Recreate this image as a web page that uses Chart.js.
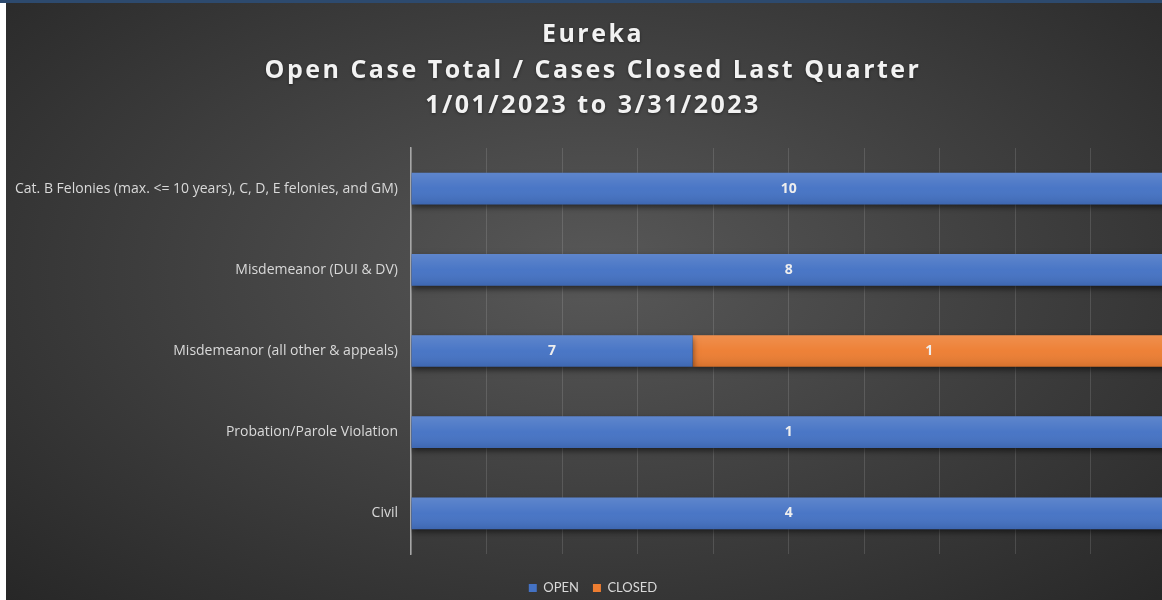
<!DOCTYPE html>
<html>
<head>
<meta charset="utf-8">
<script src="https://cdn.jsdelivr.net/npm/chart.js@4.4.0/dist/chart.umd.min.js"></script>
<style>
html, body { margin: 0; padding: 0; background: #fff; overflow: hidden; width: 1162px; height: 600px; }
#topbar { position: absolute; left: 0; top: 0; width: 1162px; height: 3px; background: #2d4a6e; }
#frame {
    position: absolute; left: 6px; top: 3px; width: 1174px; height: 597px; overflow: hidden;
    background: radial-gradient(ellipse at 50% 45%, #585858 0%, #3d3d3d 55%, #272727 100%);
}
#box { position: relative; width: 1174px; height: 602px; }
</style>
</head>
<body>
<div id="topbar"></div>
<div id="frame"><div id="box"><canvas id="chart"></canvas></div></div>
<script>
const titleLines = [
    'Eureka',
    'Open Case Total / Cases Closed Last Quarter',
    '1/01/2023 to 3/31/2023'
];
const categories = [
    'Cat. B Felonies (max. <= 10 years), C, D, E felonies, and GM)',
    'Misdemeanor (DUI & DV)',
    'Misdemeanor (all other & appeals)',
    'Probation/Parole Violation',
    'Civil'
];
// case counts shown on the bars
const openCases = [10, 8, 7, 1, 4];
const closedCases = [0, 0, 1, 0, 0];
// length of each segment as % of the bar
const openShare = [100, 100, 37.3, 100, 100];
const closedShare = [0, 0, 62.7, 0, 0];

const blue = '#4472C4';
const orange = '#ED7D31';

// shadow under the bars, light gloss on top and the count labels
const barDecor = {
    id: 'barDecor',
    beforeDatasetsDraw(chart) {
        let ctx = chart.ctx;
        ctx.save();
        ctx.shadowColor = 'rgba(0,0,0,0.55)';
        ctx.shadowBlur = 6;
        ctx.shadowOffsetY = 3;
    },
    afterDatasetsDraw(chart) {
        let ctx = chart.ctx;
        ctx.restore();
        chart.data.datasets.forEach(function (ds, di) {
            let meta = chart.getDatasetMeta(di);
            meta.data.forEach(function (bar, i) {
                let p = bar.getProps(['x', 'y', 'base', 'height'], true);
                let left = Math.min(p.x, p.base);
                let w = Math.abs(p.x - p.base);
                if (w < 1) return;
                let top = p.y - p.height / 2;
                let g = ctx.createLinearGradient(0, top, 0, top + p.height);
                g.addColorStop(0, 'rgba(255,255,255,0.14)');
                g.addColorStop(0.5, 'rgba(255,255,255,0.03)');
                g.addColorStop(1, 'rgba(0,0,0,0.10)');
                ctx.save();
                ctx.fillStyle = g;
                ctx.fillRect(left, top, w, p.height);
                ctx.restore();

                let n = ds.counts[i];
                if (!n) return;
                ctx.save();
                ctx.font = 'bold 14px "Open Sans"';
                ctx.fillStyle = '#eeeeee';
                ctx.textAlign = 'center';
                ctx.textBaseline = 'middle';
                ctx.fillText(String(n), left + w / 2, p.y);
                ctx.restore();
            });
        });
    },
    afterInit(chart) {
        // spaced-out title like the original
        let block = chart.titleBlock;
        if (!block) return;
        let orig = block.draw;
        block.draw = function () {
            let ctx = this.ctx;
            ctx.save();
            ctx.letterSpacing = '2.5px';
            ctx.shadowColor = 'rgba(0,0,0,0.45)';
            ctx.shadowBlur = 3;
            ctx.shadowOffsetY = 1;
            orig.call(this);
            ctx.restore();
        };
    }
};

new Chart(document.getElementById('chart'), {
    type: 'bar',
    data: {
        labels: categories,
        datasets: [{
            label: 'OPEN',
            data: openShare,
            counts: openCases,
            backgroundColor: blue
        }, {
            label: 'CLOSED',
            data: closedShare,
            counts: closedCases,
            backgroundColor: orange
        }]
    },
    options: {
        indexAxis: 'y',
        responsive: true,
        maintainAspectRatio: false,
        animation: false,
        devicePixelRatio: 1,
        categoryPercentage: 1,
        barPercentage: 0.39,
        layout: {
            padding: { top: 0, right: 0, bottom: 0.5, left: 0 }
        },
        scales: {
            x: {
                stacked: true,
                min: 0,
                max: 100,
                ticks: { display: false, stepSize: 10 },
                grid: { color: 'rgba(255,255,255,0.13)', drawTicks: false, lineWidth: 1 },
                border: { display: false },
                afterFit: function (s) { s.height = 13.5; }
            },
            y: {
                stacked: true,
                grid: { display: false, drawTicks: false },
                border: { display: true, color: '#a6a6a6', width: 1.5 },
                ticks: {
                    color: '#d9d9d9',
                    padding: 13,
                    font: { family: 'Open Sans', size: 14 }
                },
                afterFit: function (s) { s.width = 405; }
            },
            // empty strip on the right, keeps the plot edge past the crop
            yPad: {
                axis: 'y',
                type: 'category',
                position: 'right',
                grid: { display: false, drawTicks: false },
                border: { display: false },
                ticks: { display: false },
                afterFit: function (s) { s.width = 14; }
            }
        },
        plugins: {
            title: {
                display: true,
                text: titleLines,
                color: '#f2f2f2',
                font: { family: 'Open Sans', size: 25, weight: 'bold', lineHeight: 1.42 },
                padding: { top: 14.5, bottom: 24 }
            },
            legend: {
                position: 'bottom',
                labels: {
                    color: '#d9d9d9',
                    font: { family: 'Lato', size: 13 },
                    boxWidth: 8,
                    boxHeight: 8,
                    padding: 14
                }
            },
            tooltip: { enabled: false }
        }
    },
    plugins: [barDecor]
});
</script>
</body>
</html>
